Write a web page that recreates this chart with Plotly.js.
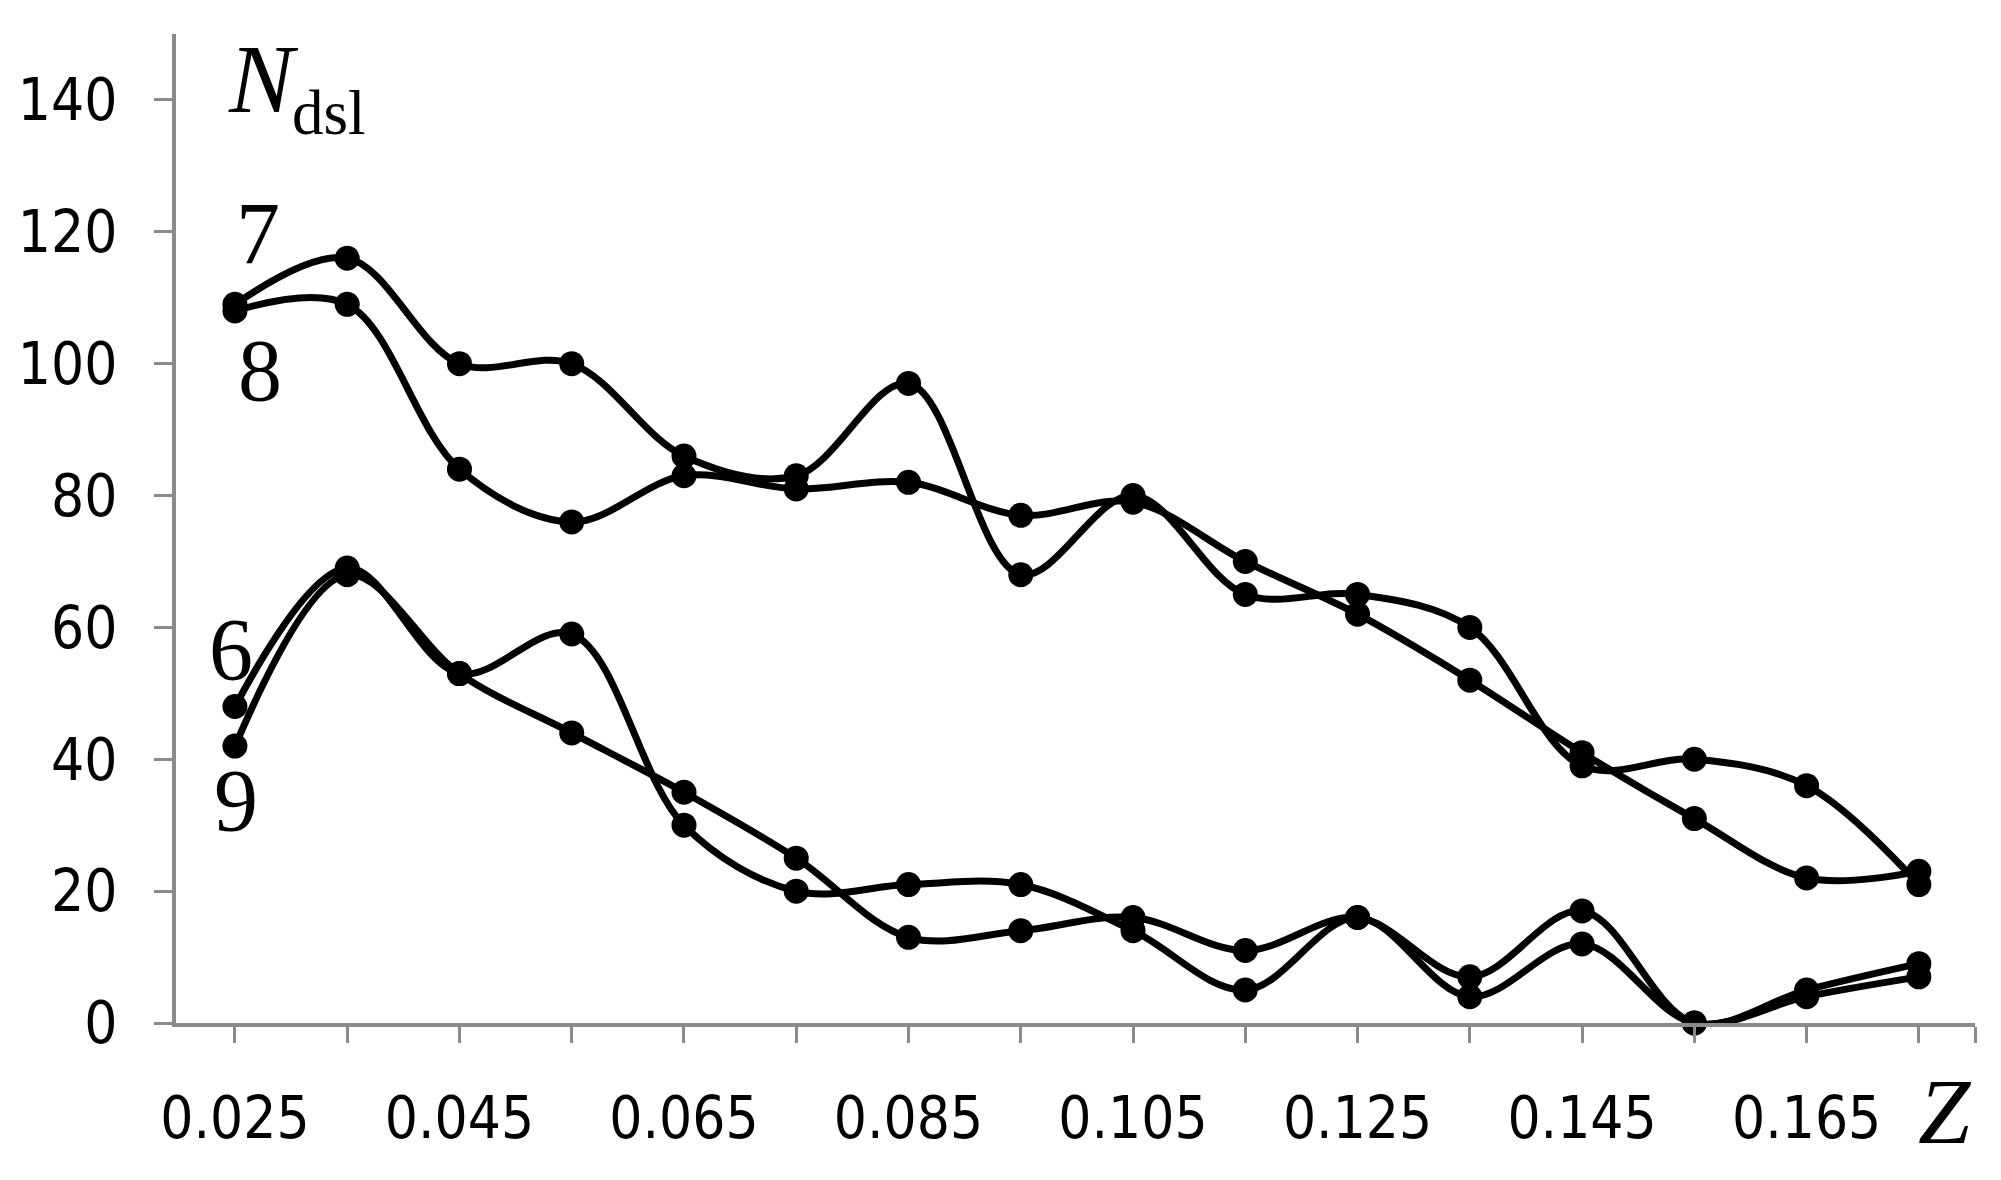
<!DOCTYPE html>
<html>
<head>
<meta charset="utf-8">
<script src="https://cdn.plot.ly/plotly-3.0.1.min.js"></script>
<style>html,body{margin:0;padding:0;background:#fff;}#chart{width:2001px;height:1180px;}</style>
</head>
<body>
<div id="chart"></div>
<script>
// Data
const zValues = [0.025, 0.035, 0.045, 0.055, 0.065, 0.075, 0.085, 0.095, 0.105, 0.115, 0.125, 0.135, 0.145, 0.155, 0.165, 0.175];
const zTickLabels = ["0.025", "", "0.045", "", "0.065", "", "0.085", "", "0.105", "", "0.125", "", "0.145", "", "0.165", ""];
const series7 = [109, 116, 100, 100, 86, 83, 97, 68, 80, 65, 65, 60, 39, 40, 36, 21];
const series8 = [108, 109, 84, 76, 83, 81, 82, 77, 79, 70, 62, 52, 41, 31, 22, 23];
const series6 = [48, 69, 53, 59, 30, 20, 21, 21, 14, 5, 16, 4, 12, 0, 4, 7];
const series9 = [42, 68, 53, 44, 35, 25, 13, 14, 16, 11, 16, 7, 17, 0, 5, 9];
const yTickValues = [0, 20, 40, 60, 80, 100, 120, 140];
const seriesNames = ["7", "8", "6", "9"];

const allSeries = [series7, series8, series6, series9];
const traces = allSeries.map((ys, i) => ({
  x: zValues,
  y: ys,
  name: seriesNames[i],
  type: 'scatter',
  mode: 'lines+markers',
  cliponaxis: false,
  line: {color: '#000', width: 7, shape: 'spline', smoothing: 1},
  marker: {color: '#000', size: 25}
}));

const axisGray = '#8a8a8a';
const tickFont = {family: '"DejaVu Sans Condensed", "Liberation Sans", Arial, sans-serif', size: 58, color: '#000'};
const serif = '"Liberation Serif", "Times New Roman", serif';
const step = zValues[1] - zValues[0];
const xMin = zValues[0] - 0.525 * step;
const xMax = zValues[zValues.length - 1] + 0.5 * step;

const layout = {
  width: 2001,
  height: 1180,
  margin: {l: 176, r: 26, t: 34, b: 157},
  paper_bgcolor: '#fff',
  plot_bgcolor: '#fff',
  showlegend: false,
  xaxis: {
    range: [xMin, xMax],
    tickvals: zValues.concat([xMax]),
    ticktext: zTickLabels.concat([""]),
    showline: true, linecolor: axisGray, linewidth: 4,
    ticks: 'outside', ticklen: 16, tickwidth: 3, tickcolor: axisGray,
    showgrid: false, zeroline: false,
    tickfont: tickFont,
    ticklabelstandoff: 25
  },
  yaxis: {
    range: [0, 150],
    tickvals: yTickValues,
    showline: true, linecolor: axisGray, linewidth: 4,
    ticks: 'outside', ticklen: 18, tickwidth: 3, tickcolor: axisGray,
    showgrid: false, zeroline: false,
    tickfont: tickFont,
    ticklabelstandoff: 25
  },
  annotations: [
    {x: 0.02705, y: 119.8, xref: 'x', yref: 'y', text: '7', showarrow: false, font: {family: serif, size: 88, color: '#000'}},
    {x: 0.02723, y: 98.9, xref: 'x', yref: 'y', text: '8', showarrow: false, font: {family: serif, size: 88, color: '#000'}},
    {x: 0.02464, y: 56.6, xref: 'x', yref: 'y', text: '6', showarrow: false, font: {family: serif, size: 88, color: '#000'}},
    {x: 0.02509, y: 33.8, xref: 'x', yref: 'y', text: '9', showarrow: false, font: {family: serif, size: 88, color: '#000'}},
    {x: 0.02750, y: 143.1, xref: 'x', yref: 'y', text: '<i>N</i>', showarrow: false, font: {family: serif, size: 97, color: '#000'}},
    {x: 0.03335, y: 138.0, xref: 'x', yref: 'y', text: 'dsl', showarrow: false, font: {family: serif, size: 63, color: '#000'}},
    {x: 0.9995, y: -0.144, xref: 'paper', yref: 'paper', text: '<i>Z</i>', showarrow: false, font: {family: serif, size: 94, color: '#000'}}
  ]
};

Plotly.newPlot('chart', traces, layout, {displayModeBar: false, staticPlot: true});
</script>
</body>
</html>
